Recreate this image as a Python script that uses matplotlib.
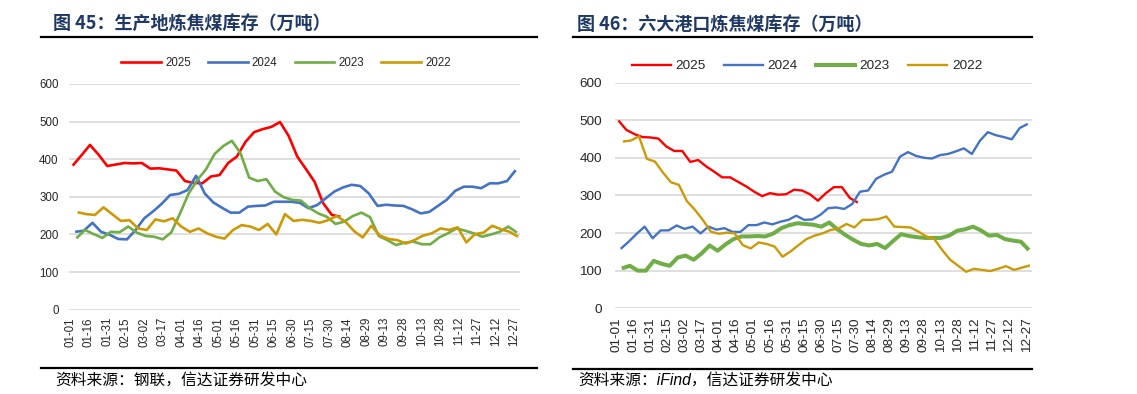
import numpy as np
import matplotlib
matplotlib.use("Agg")
import matplotlib.pyplot as plt
from matplotlib.lines import Line2D

plt.rcParams['font.family'] = ['Liberation Sans', 'Noto Sans CJK SC', 'DejaVu Sans']

# x 轴刻度（每 15 天）
tick_labels = ['01-01', '01-16', '01-31', '02-15', '03-02', '03-17', '04-01', '04-16',
               '05-01', '05-16', '05-31', '06-15', '06-30', '07-15', '07-30', '08-14',
               '08-29', '09-13', '09-28', '10-13', '10-28', '11-12', '11-27', '12-12', '12-27']
tick_days = [15 * i for i in range(len(tick_labels))]

years = ['2025', '2024', '2023', '2022']
# 每年第一个周度数据的日序（01-01 = 0）
first_day = {'2025': 2, '2024': 4, '2023': 5, '2022': 6}

# 图 45：生产地炼焦煤库存（万吨）
prod_2025 = [383, 410, 438, 412, 382, 386, 390, 389, 390, 375, 376, 373, 370, 342, 337, 336,
             354, 358, 390, 407, 446, 472, 480, 486, 499, 462, 407, 374, 340, 283, 252, 247]
prod_2024 = [207, 210, 231, 207, 199, 188, 187, 212, 243, 261, 281, 305, 308, 318, 356, 309,
             285, 271, 258, 258, 274, 276, 277, 287, 287, 287, 284, 270, 278, 296, 314, 325,
             332, 329, 309, 276, 279, 277, 276, 267, 256, 260, 276, 292, 316, 327, 327, 323,
             336, 336, 342, 371]
prod_2023 = [190, 212, 201, 191, 207, 206, 221, 205, 196, 194, 187, 206, 256, 309, 345, 373,
             414, 435, 449, 416, 351, 342, 347, 314, 299, 292, 290, 270, 256, 247, 228, 234,
             249, 258, 246, 196, 185, 172, 178, 181, 174, 174, 192, 203, 216, 210, 203, 194,
             200, 207, 221, 205]
prod_2022 = [259, 254, 252, 272, 254, 236, 238, 216, 212, 240, 235, 243, 221, 207, 216, 203,
             194, 189, 212, 225, 221, 212, 228, 200, 254, 236, 239, 236, 231, 238, 249, 234,
             209, 192, 223, 197, 188, 185, 176, 185, 197, 203, 216, 212, 219, 179, 201, 205,
             223, 214, 207, 194]

# 图 46：六大港口炼焦煤库存（万吨）
port_2025 = [499, 474, 463, 455, 454, 451, 430, 418, 418, 389, 394, 377, 363, 348, 348, 336,
             324, 310, 298, 306, 302, 303, 315, 313, 303, 286, 306, 322, 322, 293, 281]
port_2024 = [158, 177, 198, 217, 186, 207, 207, 220, 211, 217, 199, 217, 209, 213, 203, 203,
             221, 221, 228, 223, 230, 235, 246, 235, 236, 248, 266, 268, 264, 277, 310, 313,
             344, 355, 363, 403, 415, 405, 400, 398, 407, 410, 417, 425, 410, 445, 468, 460,
             455, 449, 479, 490]
port_2023 = [106, 113, 100, 100, 126, 118, 113, 135, 140, 129, 146, 167, 153, 170, 184, 191,
             191, 192, 191, 199, 213, 221, 226, 224, 222, 217, 228, 210, 195, 182, 171, 167,
             171, 160, 179, 197, 192, 189, 187, 187, 187, 193, 206, 210, 217, 207, 193, 195,
             184, 180, 177, 155]
port_2022 = [443, 446, 457, 397, 390, 361, 335, 328, 285, 262, 235, 204, 198, 201, 199, 168,
             159, 175, 171, 164, 137, 151, 168, 184, 193, 199, 208, 212, 224, 215, 235, 235,
             237, 244, 217, 216, 215, 204, 191, 184, 155, 129, 113, 97, 105, 102, 99, 105,
             112, 102, 108, 114]

colors = {'2025': '#FF0000', '2024': '#4472C4', '2023': '#70AD47', '2022': '#CC9A06'}
title_color = '#1F3864'


def draw_panel(fig, rect, series, widths, fs, ypad, xpad):
    ax = fig.add_axes(rect)
    for y in years:
        vals = series[y]
        x = first_day[y] + 7 * np.arange(len(vals))
        ax.plot(x, vals, color=colors[y], lw=widths[y], solid_joinstyle='round',
                solid_capstyle='butt', label=y)
    ax.set_xlim(-1, 364.5)
    ax.set_ylim(0, 600)
    ax.set_yticks(range(0, 601, 100))
    ax.set_xticks(tick_days)
    ax.set_xticklabels(tick_labels, rotation=90)
    ax.grid(axis='y', color='#D9D9D9', lw=1.2)
    ax.set_axisbelow(True)
    for s in ax.spines.values():
        s.set_visible(False)
    ax.tick_params(axis='both', length=0, labelsize=fs, colors='#262626')
    ax.tick_params(axis='y', pad=ypad)
    ax.tick_params(axis='x', pad=xpad)
    return ax


fig = plt.figure(figsize=(11.37, 3.94), dpi=100)

# ---- 左图 ----
left_series = {'2025': prod_2025, '2024': prod_2024, '2023': prod_2023, '2022': prod_2022}
left_w = {'2025': 1.9, '2024': 1.9, '2023': 1.9, '2022': 1.9}
draw_panel(fig, [69 / 1137, 1 - 309.7 / 394, 451 / 1137, 225.7 / 394],
           left_series, left_w, 8.3, 7.5, 5.3)

# ---- 右图 ----
right_series = {'2025': port_2025, '2024': port_2024, '2023': port_2023, '2022': port_2022}
right_w = {'2025': 1.7, '2024': 1.7, '2023': 2.9, '2022': 1.7}
draw_panel(fig, [615 / 1137, 1 - 308.3 / 394, 416.7 / 1137, 225.8 / 394],
           right_series, right_w, 9.7, 9.5, 6.3)

# 图例
for ws, cx, cy, fs, hl, htp, cs in [(left_w, 286, 63.5, 8.3, 3.45, 0.37, 1.48),
                                    (right_w, 807, 66, 9.7, 2.9, 0.34, 1.36)]:
    handles = [Line2D([], [], color=colors[y], lw=ws[y]) for y in years]
    fig.legend(handles, years, loc='center', bbox_to_anchor=(cx / 1137, 1 - cy / 394),
               ncol=4, frameon=False, fontsize=fs, handlelength=hl, handletextpad=htp,
               columnspacing=cs, borderpad=0, labelcolor='#262626')

# 标题、横线与资料来源
title_font = ['Noto Sans CJK SC']
fig.text(53 / 1137, 1 - 24 / 394, '图 45：生产地炼焦煤库存（万吨）', family=title_font,
         fontsize=13, fontweight='bold', color=title_color, va='center', ha='left')
fig.text(577 / 1137, 1 - 24 / 394, '图 46：六大港口炼焦煤库存（万吨）', family=title_font,
         fontsize=13, fontweight='bold', color=title_color, va='center', ha='left')

for x0, x1, ytop, ybot in [(41, 537, 36.7, 368.3), (573, 1032, 36.7, 369.3)]:
    fig.add_artist(Line2D([x0 / 1137, x1 / 1137], [1 - ytop / 394] * 2, color='black', lw=1.6))
    fig.add_artist(Line2D([x0 / 1137, x1 / 1137], [1 - ybot / 394] * 2, color='black', lw=1.6))

fig.text(55 / 1137, 1 - 380 / 394, '资料来源：钢联，信达证券研发中心',
         family=['Noto Sans CJK SC', 'DejaVu Sans'], fontsize=11.3, style='italic',
         va='center', ha='left')
fig.text(578 / 1137, 1 - 380 / 394, '资料来源：iFind，信达证券研发中心',
         family=['Liberation Sans', 'Noto Sans CJK SC'], fontsize=11.3, style='italic',
         va='center', ha='left')

fig.savefig('out.png', dpi=100)
